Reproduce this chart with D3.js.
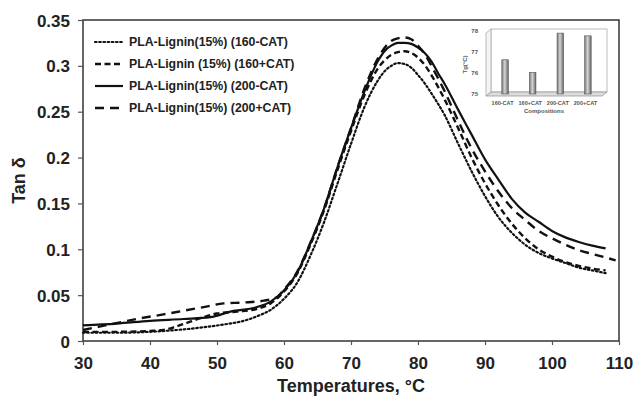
<!DOCTYPE html>
<html>
<head>
<meta charset="utf-8">
<script src="https://cdn.jsdelivr.net/npm/d3@7"></script>
<style>
  body { margin: 0; background: #fff; }
  svg { font-family: 'Liberation Sans', Arial, sans-serif; }
</style>
</head>
<body>
<svg width="639" height="397"></svg>
<script>
// Tan delta vs temperature
const seriesNames = ['PLA-Lignin(15%) (160-CAT)', 'PLA-Lignin (15%) (160+CAT)',
  'PLA-Lignin(15%) (200-CAT)', 'PLA-Lignin(15%) (200+CAT)'];

const temp160minus = [30, 35, 40, 44, 48, 51, 54, 56, 58, 60, 62, 64, 66, 68, 70, 72, 74, 75, 76, 77, 78, 79, 80, 81, 82, 84, 86, 88, 90, 92, 94, 96, 98, 100, 102, 104, 106, 108];
const tan160minus = [0.009, 0.009, 0.010, 0.012, 0.015, 0.018, 0.022, 0.027, 0.034, 0.046, 0.064, 0.094, 0.130, 0.172, 0.215, 0.255, 0.284, 0.294, 0.300, 0.303, 0.302, 0.298, 0.290, 0.281, 0.270, 0.246, 0.215, 0.185, 0.158, 0.135, 0.118, 0.105, 0.096, 0.090, 0.085, 0.080, 0.077, 0.074];

const temp160plus = [30, 35, 40, 42, 44, 46, 48, 50, 53, 56, 58, 60, 62, 64, 66, 68, 70, 72, 74, 75, 76, 77, 78, 79, 80, 81, 82, 83, 84, 86, 88, 90, 92, 94, 96, 98, 100, 102, 104, 106, 108];
const tan160plus = [0.010, 0.010, 0.011, 0.012, 0.016, 0.021, 0.026, 0.030, 0.032, 0.035, 0.041, 0.054, 0.074, 0.106, 0.143, 0.187, 0.229, 0.268, 0.297, 0.306, 0.312, 0.315, 0.316, 0.314, 0.309, 0.301, 0.290, 0.277, 0.263, 0.232, 0.200, 0.172, 0.148, 0.128, 0.112, 0.100, 0.092, 0.086, 0.082, 0.079, 0.077];

const temp200minus = [30, 35, 40, 45, 49, 52, 56, 58, 60, 62, 64, 66, 68, 70, 72, 74, 75, 76, 77, 78, 79, 80, 81, 82, 83, 84, 86, 88, 90, 92, 94, 96, 98, 100, 102, 104, 106, 108];
const tan200minus = [0.017, 0.019, 0.022, 0.024, 0.026, 0.032, 0.037, 0.043, 0.055, 0.075, 0.108, 0.145, 0.190, 0.232, 0.272, 0.305, 0.316, 0.322, 0.325, 0.325, 0.324, 0.320, 0.314, 0.305, 0.292, 0.280, 0.252, 0.225, 0.198, 0.176, 0.155, 0.140, 0.130, 0.120, 0.113, 0.108, 0.104, 0.101];

const temp200plus = [30, 34, 38, 42, 45, 48, 51, 54, 57, 59, 60, 62, 64, 66, 68, 70, 72, 74, 76, 77, 78, 79, 80, 81, 82, 84, 86, 88, 90, 92, 94, 96, 98, 100, 102, 104, 106, 108, 109.5];
const tan200plus = [0.012, 0.018, 0.024, 0.029, 0.033, 0.037, 0.041, 0.042, 0.044, 0.048, 0.056, 0.076, 0.108, 0.145, 0.190, 0.232, 0.275, 0.308, 0.327, 0.330, 0.331, 0.329, 0.322, 0.313, 0.300, 0.272, 0.240, 0.210, 0.185, 0.163, 0.145, 0.132, 0.120, 0.112, 0.105, 0.099, 0.095, 0.091, 0.088];

const xTicks = [30, 40, 50, 60, 70, 80, 90, 100, 110];
const yTicks = [0, 0.05, 0.1, 0.15, 0.2, 0.25, 0.3, 0.35];

// inset: Tg per composition
const insetCats = ['160-CAT', '160+CAT', '200-CAT', '200+CAT'];
const insetTg = [76.63, 76.03, 77.9, 77.77];
const insetTicks = [75, 76, 77, 78];

const svg = d3.select('svg');
const margin = {left: 83, top: 20, right: 20, bottom: 56};
const width = +svg.attr('width');
const height = +svg.attr('height');

const x = d3.scaleLinear().domain([30, 110]).range([margin.left, width - margin.right]);
const y = d3.scaleLinear().domain([0, 0.35]).range([height - margin.bottom, margin.top]);

const series = [
  {name: seriesNames[0], t: temp160minus, v: tan160minus, dash: '1.6,2.6', cap: 'round', w: 2.2},
  {name: seriesNames[1], t: temp160plus, v: tan160plus, dash: '6,3.5', cap: 'butt', w: 2.4},
  {name: seriesNames[2], t: temp200minus, v: tan200minus, dash: null, cap: 'butt', w: 2.2},
  {name: seriesNames[3], t: temp200plus, v: tan200plus, dash: '9,6', cap: 'butt', w: 2.4}
];

// frame
svg.append('rect')
  .attr('x', x(30)).attr('y', y(0.35))
  .attr('width', x(110) - x(30)).attr('height', y(0) - y(0.35))
  .attr('fill', 'none').attr('stroke', '#333').attr('stroke-width', 1.5);

const xAxis = svg.append('g')
  .attr('transform', `translate(0,${y(0)})`)
  .call(d3.axisBottom(x).tickValues(xTicks).tickSize(4).tickPadding(12));
const yAxis = svg.append('g')
  .attr('transform', `translate(${x(30)},0)`)
  .call(d3.axisLeft(y).tickValues(yTicks).tickSize(5).tickPadding(8)
    .tickFormat((d) => d3.format('')(+d.toFixed(2))));

[xAxis, yAxis].forEach((g) => {
  g.select('.domain').remove();
  g.selectAll('line').attr('stroke', '#555').attr('stroke-width', 1.2);
  g.selectAll('text')
    .attr('font-family', "'Liberation Sans', Arial, sans-serif")
    .attr('font-size', 17).attr('font-weight', 'bold').attr('fill', '#222');
});
yAxis.selectAll('text').attr('dy', '0.36em');

svg.append('text')
  .attr('x', (x(30) + x(110)) / 2).attr('y', 392)
  .attr('text-anchor', 'middle')
  .attr('font-size', 18).attr('font-weight', 'bold').attr('fill', '#222')
  .text('Temperatures, °C');

svg.append('text')
  .attr('transform', `translate(25,${y(0.175)}) rotate(-90)`)
  .attr('text-anchor', 'middle')
  .attr('font-size', 18).attr('font-weight', 'bold').attr('fill', '#222')
  .text('Tan δ');

const line = d3.line()
  .x((d) => x(d[0]))
  .y((d) => y(d[1]))
  .curve(d3.curveMonotoneX);

svg.selectAll('path.curve')
  .data(series)
  .enter()
  .append('path')
  .attr('class', 'curve')
  .attr('d', (s) => line(s.t.map((t, i) => [t, s.v[i]])))
  .attr('fill', 'none')
  .attr('stroke', '#111')
  .attr('stroke-width', (s) => s.w)
  .attr('stroke-linecap', (s) => s.cap)
  .attr('stroke-dasharray', (s) => s.dash);

// legend
const legend = svg.append('g').attr('transform', 'translate(95,42)');
const items = legend.selectAll('g')
  .data(series)
  .enter()
  .append('g')
  .attr('transform', (d, i) => `translate(0,${i * 22})`);
items.append('line')
  .attr('x1', 0).attr('x2', 28)
  .attr('stroke', '#111')
  .attr('stroke-width', (s) => s.w)
  .attr('stroke-linecap', (s) => s.cap)
  .attr('stroke-dasharray', (s) => s.dash);
items.append('text')
  .attr('x', 34).attr('dy', '0.35em')
  .attr('font-size', 12.3).attr('font-weight', 'bold').attr('fill', '#222')
  .text((d) => d.name);

// inset bar chart with a pseudo-3D frame
const inset = svg.append('g');
const ix = d3.scaleBand().domain(insetCats).range([486, 602]).padding(0.2);
const iy = d3.scaleLinear().domain([75, 78]).range([96, 33]);
const depth = {dx: 5, dy: -4};

const defs = svg.append('defs');
const grad = defs.append('linearGradient').attr('id', 'barGrad');
grad.append('stop').attr('offset', '0%').attr('stop-color', '#777');
grad.append('stop').attr('offset', '45%').attr('stop-color', '#d4d4d4');
grad.append('stop').attr('offset', '100%').attr('stop-color', '#666');

// back wall, left wall, floor
inset.append('rect')
  .attr('x', ix.range()[0] + depth.dx).attr('y', iy(78) + depth.dy)
  .attr('width', ix.range()[1] - ix.range()[0]).attr('height', iy(75) - iy(78))
  .attr('fill', '#fff').attr('stroke', '#aaa').attr('stroke-width', 0.8);
inset.append('path')
  .attr('d', `M${ix.range()[0]},${iy(78)} L${ix.range()[0] + depth.dx},${iy(78) + depth.dy} ` +
    `L${ix.range()[0] + depth.dx},${iy(75) + depth.dy} L${ix.range()[0]},${iy(75)} Z`)
  .attr('fill', '#f4f4f4').attr('stroke', '#aaa').attr('stroke-width', 0.8);
inset.append('path')
  .attr('d', `M${ix.range()[0]},${iy(75)} L${ix.range()[0] + depth.dx},${iy(75) + depth.dy} ` +
    `L${ix.range()[1] + depth.dx},${iy(75) + depth.dy} L${ix.range()[1]},${iy(75)} Z`)
  .attr('fill', '#ddd').attr('stroke', '#999').attr('stroke-width', 0.8);

const bw = 6.5;
inset.selectAll('rect.bar')
  .data(insetTg)
  .enter()
  .append('rect')
  .attr('class', 'bar')
  .attr('x', (d, i) => ix(insetCats[i]) + ix.bandwidth() / 2 + depth.dx / 2 - bw / 2)
  .attr('y', (d) => iy(d) + depth.dy / 2)
  .attr('width', bw)
  .attr('height', (d) => iy(75) - iy(d))
  .attr('fill', 'url(#barGrad)')
  .attr('stroke', '#555').attr('stroke-width', 0.6);

inset.selectAll('text.ytick')
  .data(insetTicks)
  .enter()
  .append('text')
  .attr('class', 'ytick')
  .attr('x', 478).attr('y', (d) => iy(d) + depth.dy / 2)
  .attr('dy', '0.35em').attr('text-anchor', 'end')
  .attr('font-size', 6).attr('font-weight', 'bold').attr('fill', '#555')
  .text((d) => d);

inset.selectAll('text.xcat')
  .data(insetCats)
  .enter()
  .append('text')
  .attr('class', 'xcat')
  .attr('x', (d) => ix(d) + ix.bandwidth() / 2)
  .attr('y', 105)
  .attr('text-anchor', 'middle')
  .attr('font-size', 5.5).attr('font-weight', 'bold').attr('fill', '#555')
  .text((d) => d);

inset.append('text')
  .attr('x', (ix.range()[0] + ix.range()[1]) / 2).attr('y', 113)
  .attr('text-anchor', 'middle')
  .attr('font-size', 6).attr('font-weight', 'bold').attr('fill', '#555')
  .text('Compositions');

inset.append('text')
  .attr('transform', `translate(467,${iy(76.5)}) rotate(-90)`)
  .attr('text-anchor', 'middle')
  .attr('font-size', 6).attr('font-weight', 'bold').attr('fill', '#555')
  .text('Tg(°C)');
</script>
</body>
</html>
